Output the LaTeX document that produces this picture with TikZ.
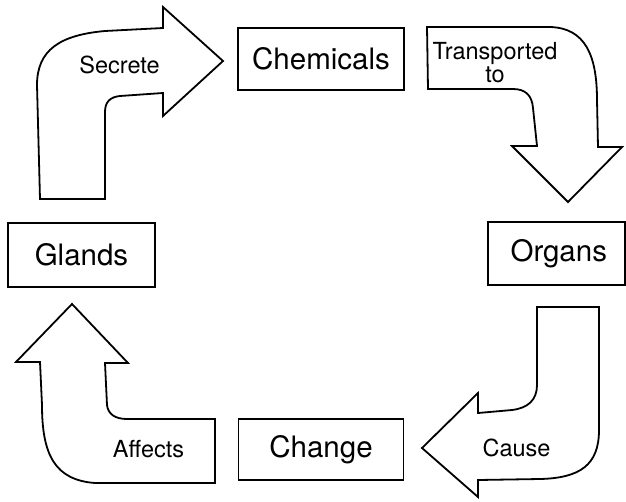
\documentclass[tikz,border=0pt]{standalone}
\usepackage{fontspec}
\setmainfont{TeX Gyre Heros}
\usetikzlibrary{positioning}
\tikzset{
    stage/.style={
        rectangle, draw=black, line width=1.8pt,
        inner sep=0pt, fill=white,
        font=\fontsize{29.5}{30}\selectfont
    },
    blockarrow/.style={
        draw=black, line width=1.8pt, fill=white, line join=miter
    },
    arrowlabel/.style={
        anchor=base, inner sep=0pt, align=center,
        font=\fontsize{23.5}{23}\selectfont
    }
}
\begin{document}
\begin{tikzpicture}[x=1pt, y=-1pt]
\useasboundingbox (0,0) rectangle (626,501);

% Stages of the cycle
\node[stage, minimum width=166pt, minimum height=62pt] (chemicals) at (321,59) {Chemicals};
\node[stage, minimum width=165pt, minimum height=61pt, below=327pt of chemicals] (change) {Change};
\node[stage, minimum width=147pt, minimum height=64pt] (glands) at (81.5,255) {Glands};
\node[stage, minimum width=137pt, minimum height=63pt, text width=101pt, align=right] (organs) at (556.5,253.5) {Organs};

% Secrete (glands -> chemicals)
\draw[blockarrow] (40,199) -- (37,85) .. controls (37,50) and (60,35) .. (105,31)
    -- (163,28) -- (163,7) -- (223,61) -- (163,116) -- (163,93) -- (120,96)
    .. controls (110,97) and (105,102) .. (105,112) -- (105,199) -- cycle;
\node[arrowlabel] (secrete) at (119.5,73) {Secrete};

% Transported to (chemicals -> organs)
\draw[blockarrow] (427,27) -- (550,27) .. controls (585,28) and (597,55) .. (597,100)
    -- (598,147) -- (622,147) -- (568,202) -- (512,146) -- (537,146) -- (533,108)
    .. controls (532,95) and (525,89) .. (513,89) -- (428,89) -- cycle;
\node[arrowlabel] (transported) at (495,82) {Transported\\to};

% Cause (organs -> change)
\draw[blockarrow] (537,307) -- (599,307) -- (599,430) .. controls (599,465) and (580,478) .. (540,479)
    -- (478,480) -- (478,497) -- (422,448) -- (478,393) -- (478,413) -- (512,410)
    .. controls (528,408) and (537,400) .. (537,385) -- cycle;
\node[arrowlabel] (cause) at (516.5,456) {Cause};

% Affects (change -> glands)
\draw[blockarrow] (72,304) -- (128,363) -- (105,363) -- (107,405)
    .. controls (108,414) and (115,419) .. (127,419) -- (215,419) -- (215,483) -- (95,483)
    .. controls (55,480) and (42,455) .. (42,405) -- (40,362) -- (16,362) -- cycle;
\node[arrowlabel] (affects) at (148.5,457) {Affects};

\end{tikzpicture}
\end{document}
